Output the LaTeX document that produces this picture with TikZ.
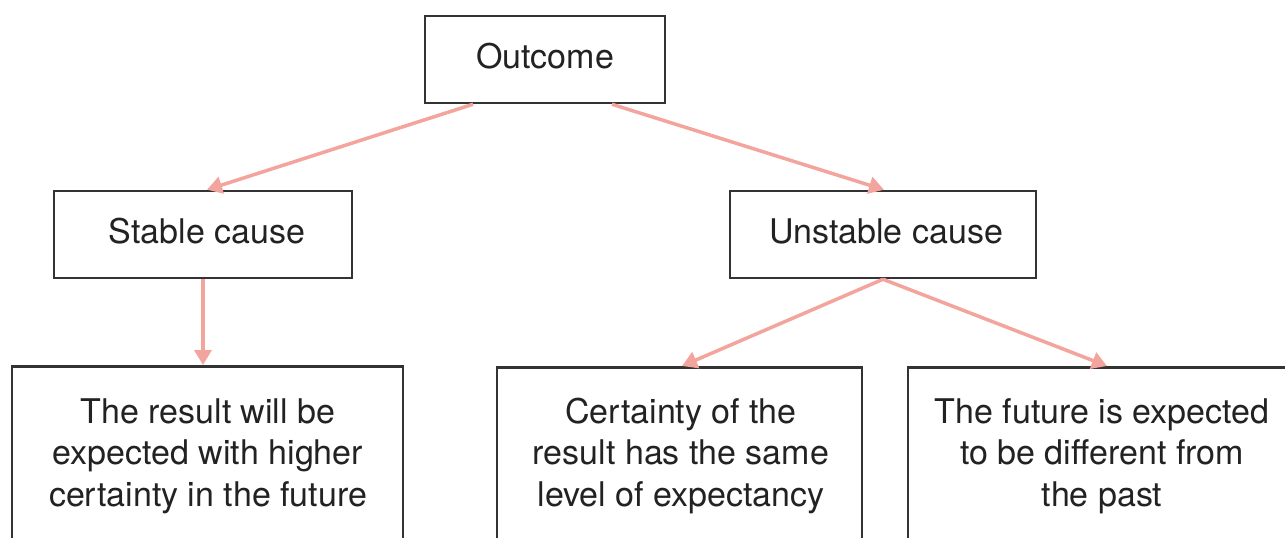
\documentclass[tikz,border=0pt]{standalone}
\usepackage{fontspec}
\setmainfont{TeX Gyre Heros}
\usetikzlibrary{arrows.meta}

\definecolor{boxline}{RGB}{51,51,51}
\definecolor{inktext}{RGB}{34,34,34}
\definecolor{linkpink}{RGB}{243,164,156}

\tikzset{
  box/.style={draw=boxline, line width=2.5pt, fill=white, rectangle, inner sep=0pt},
  lbl/.style={text=inktext, align=center, inner sep=0pt, anchor=base,
    font=\fontsize{34}{41.5}\selectfont},
  link/.style={draw=linkpink, line width=3.5pt,
    -{Triangle[length=15pt, width=17pt]}}
}

\begin{document}
\begin{tikzpicture}[x=1pt, y=-1pt]
  \useasboundingbox (0,0) rectangle (1285,538);
  \clip (0,0) rectangle (1285,538);

  % boxes
  \node[box, minimum width=240pt, minimum height=87pt] (outcome) at (545,59.5) {};
  \node[box, minimum width=298pt, minimum height=87pt] (stable) at (203,234.5) {};
  \node[box, minimum width=306pt, minimum height=87pt] (unstable) at (883,234.5) {};
  \node[box, minimum width=391pt, minimum height=200pt, anchor=north] (res1) at (207.5,365) {};
  \node[box, minimum width=365pt, minimum height=200pt, anchor=north] (res2) at (679.5,366) {};
  \node[box, minimum width=388pt, minimum height=200pt, anchor=north] (res3) at (1102,366) {};

  % texts (base anchor sits on the last line of a multi-line label)
  \node[lbl] (toutcome) at (545,68) {Outcome};
  \node[lbl] (tstable) at (207,243) {Stable cause};
  \node[lbl] (tunstable) at (886,243) {Unstable cause};
  \node[lbl] (tres1) at (208,506) {The result will be\\expected with higher\\certainty in the future};
  \node[lbl] (tres2) at (681,506) {Certainty of the\\result has the same\\level of expectancy};
  \node[lbl] (tres3) at (1102,506) {The future is expected\\to be different from\\the past};

  % connectors
  \draw[link] ([xshift=-72pt]outcome.south) -- ([xshift=4pt]stable.north);
  \draw[link] ([xshift=67pt]outcome.south) -- ([xshift=1pt]unstable.north);
  \draw[link] (stable.south) -- (stable.south |- res1.north);
  \draw[link] (unstable.south) -- ([xshift=2.5pt]res2.north);
  \draw[link] (unstable.south) -- ([xshift=5pt]res3.north);
\end{tikzpicture}
\end{document}
